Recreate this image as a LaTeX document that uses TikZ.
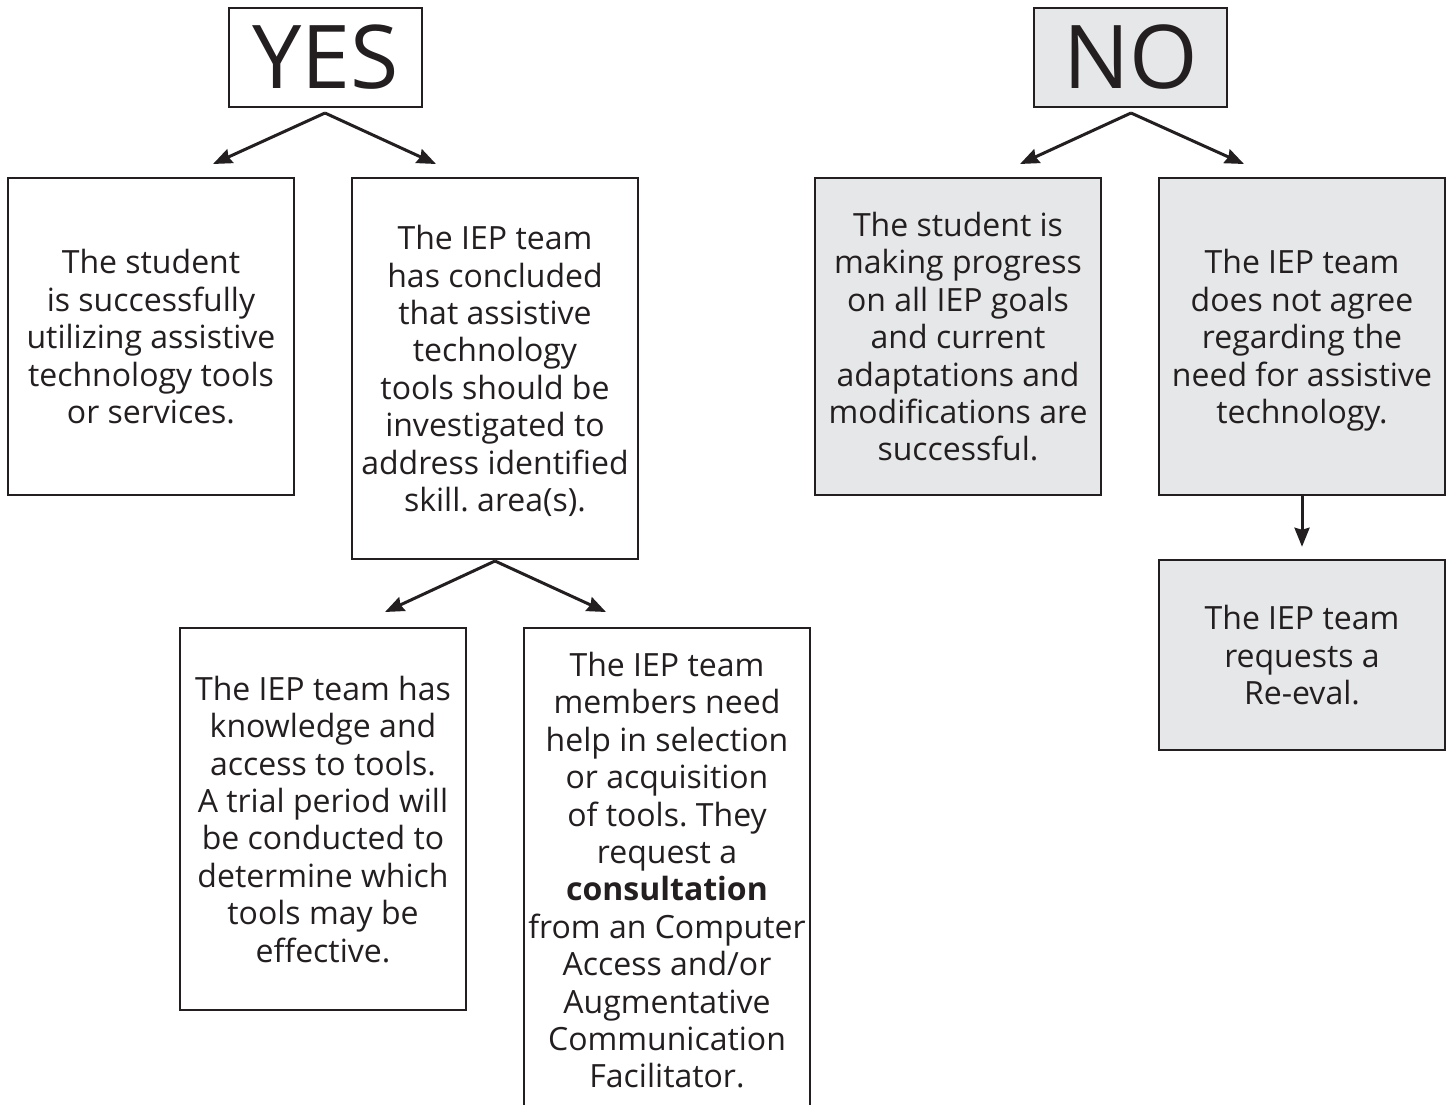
\documentclass[tikz,border=0pt]{standalone}
\usepackage{fontspec}
\setmainfont{Open Sans}
\usetikzlibrary{arrows.meta}
\definecolor{ink}{HTML}{231F20}
\definecolor{boxgray}{HTML}{E6E7E8}
\frenchspacing
\begin{document}
\begin{tikzpicture}[x=1pt,y=-1pt,
  box/.style={draw=ink, line width=2.5pt, text=ink, align=center, inner sep=0pt,
    text depth=0pt, minimum width=286pt, font=\fontsize{32}{37.4}\selectfont},
  graybox/.style={box, fill=boxgray},
  head/.style={draw=ink, line width=2.5pt, text=ink, inner sep=0pt,
    minimum width=193pt, minimum height=99pt, font=\fontsize{88}{90}\selectfont},
  arr/.style={draw=ink, line width=3pt, -{Stealth[length=19pt,width=15pt,inset=2pt]}}]
\useasboundingbox (0,0) rectangle (1450,1104);
\fill[white] (0,0) rectangle (1450,1104);

\node[head] (yes) at (325.5,57.5) {YES};
\node[head, fill=boxgray] (no) at (1130.5,57.5) {NO};

\node[box, minimum height=317pt] (A) at (151,336.5)
  {The student\\is successfully\\utilizing assistive\\technology tools\\or services.};
\node[box, minimum height=381pt] (B) at (495,368.5)
  {The IEP team\\has concluded\\that assistive\\technology\\tools should be\\investigated to\\address identified\\skill. area(s).};
\node[graybox, minimum height=317pt] (C) at (958,336.5)
  {The student is\\making progress\\on all IEP goals\\and current\\adaptations and\\modifications are\\successful.};
\node[graybox, minimum height=317pt] (D) at (1302,336.5)
  {The IEP team\\does not agree\\regarding the\\need for assistive\\technology.};
\node[graybox, minimum height=190pt] (E) at (1302,655)
  {The IEP team\\requests a\\Re-eval.};
\node[box, minimum height=382pt] (F) at (323,819)
  {The IEP team has\\knowledge and\\access to tools.\\A trial period will\\be conducted to\\determine which\\tools may be\\effective.};
\node[box, minimum height=484pt] (G) at (667,870)
  {The IEP team\\members need\\help in selection\\or acquisition\\of tools. They\\request a\\\textbf{consultation}\\from an Computer\\Access and/or\\Augmentative\\Communication\\Facilitator.};

\coordinate (yf) at (325,113);
\coordinate (ya) at (213,164);
\coordinate (yb) at (436,164);
\coordinate (nf) at (1131,113);
\coordinate (nc) at (1020,164);
\coordinate (nd) at (1244,164);
\coordinate (bf) at (495,561);
\coordinate (bF) at (385,612);
\coordinate (bG) at (606,612);

\draw[arr] (yf) -- (ya);
\draw[arr] (yf) -- (yb);
\draw[arr] (nf) -- (nc);
\draw[arr] (nf) -- (nd);
\draw[arr] (bf) -- (bF);
\draw[arr] (bf) -- (bG);
\draw[arr, shorten >=12pt] (D.south) -- (E.north);
\end{tikzpicture}
\end{document}
